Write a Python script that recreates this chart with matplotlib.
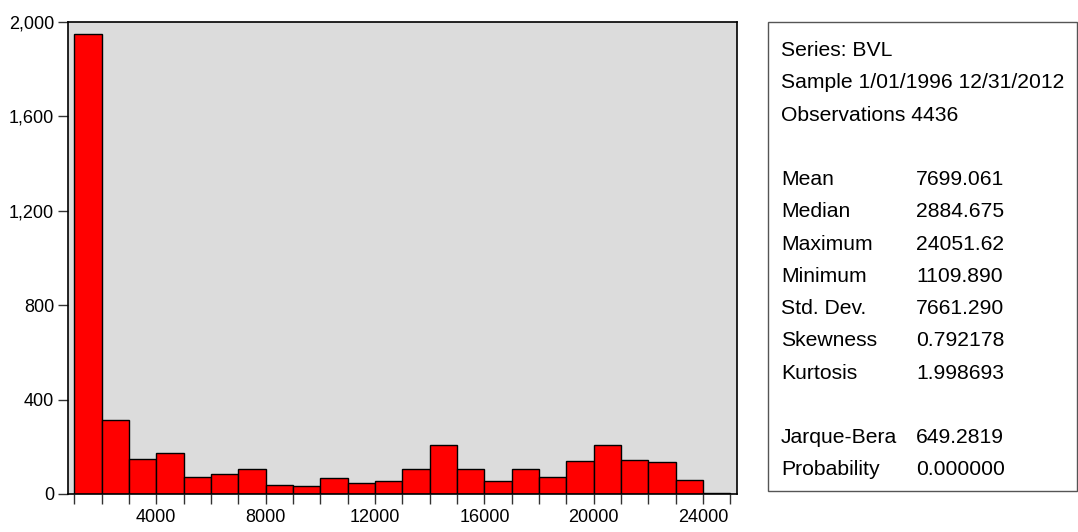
import matplotlib
matplotlib.use("Agg")
import matplotlib.pyplot as plt
import matplotlib.patches as mpatches
import matplotlib.ticker as mticker
import numpy as np

plt.rcParams["font.family"] = ["Liberation Sans", "DejaVu Sans"]

# histogram of BVL, bins of width 1000 starting at 1000
bin_left = np.arange(1000, 25000, 1000)
counts = [1948, 315, 148, 172, 73, 83, 105, 37, 35, 68, 48,
          57, 106, 208, 106, 54, 106, 72, 141, 208, 143, 136, 59, 3]
bin_width = 1000

x_ticks_minor = np.arange(1000, 26000, 1000)
x_ticks_major = [4000, 8000, 12000, 16000, 20000, 24000]
y_ticks = [0, 400, 800, 1200, 1600, 2000]

stat_header = ["Series: BVL", "Sample 1/01/1996 12/31/2012", "Observations 4436"]
stat_names = ["Mean", "Median", "Maximum", "Minimum", "Std. Dev.",
              "Skewness", "Kurtosis"]
stat_values = ["7699.061", "2884.675", "24051.62", "1109.890", "7661.290",
               "0.792178", "1.998693"]
test_names = ["Jarque-Bera", "Probability"]
test_values = ["649.2819", "0.000000"]

W, H = 1078, 532
fig = plt.figure(figsize=(W / 100, H / 100), dpi=100)

# axes box in pixel coords: left 68, right 737, top 22, bottom 494
ax = fig.add_axes([68 / W, (H - 494) / H, (737 - 68) / W, (494 - 22) / H])
ax.set_facecolor("#dcdcdc")
ax.bar(bin_left, counts, width=bin_width, align="edge",
       color="#ff0000", edgecolor="black", linewidth=1.0, zorder=2)

ax.set_xlim(770, 25240)
ax.set_ylim(0, 2000)
ax.set_xticks(x_ticks_major)
ax.set_xticks(x_ticks_minor, minor=True)
ax.set_yticks(y_ticks)
ax.yaxis.set_major_formatter(mticker.FuncFormatter(lambda v, p: f"{int(v):,}"))
ax.tick_params(axis="both", which="both", direction="out", length=7,
               width=1.0, color="#333333", labelsize=13, pad=3)
ax.tick_params(axis="x", which="major", pad=4)
for s in ax.spines.values():
    s.set_color("black")
    s.set_linewidth(1.2)

# statistics panel
bx0, bx1, by0, by1 = 768, 1077, 22, 491
fig.patches.append(mpatches.Rectangle(
    (bx0 / W, (H - by1) / H), (bx1 - bx0) / W, (by1 - by0) / H,
    transform=fig.transFigure, fill=False, edgecolor="#555555", linewidth=1.0))

x_lab, x_val = 781 / W, 916 / W
y0, step = 56, 32.26
fs = 15.2


def put(i, txt, x):
    fig.text(x, (H - (y0 + i * step)) / H, txt, fontsize=fs,
             va="baseline", ha="left", color="black")


for i, t in enumerate(stat_header):
    put(i, t, x_lab)
for i, (n, v) in enumerate(zip(stat_names, stat_values)):
    put(4 + i, n, x_lab)
    put(4 + i, v, x_val)
for i, (n, v) in enumerate(zip(test_names, test_values)):
    put(12 + i, n, x_lab)
    put(12 + i, v, x_val)

fig.savefig("out.png", dpi=100)
